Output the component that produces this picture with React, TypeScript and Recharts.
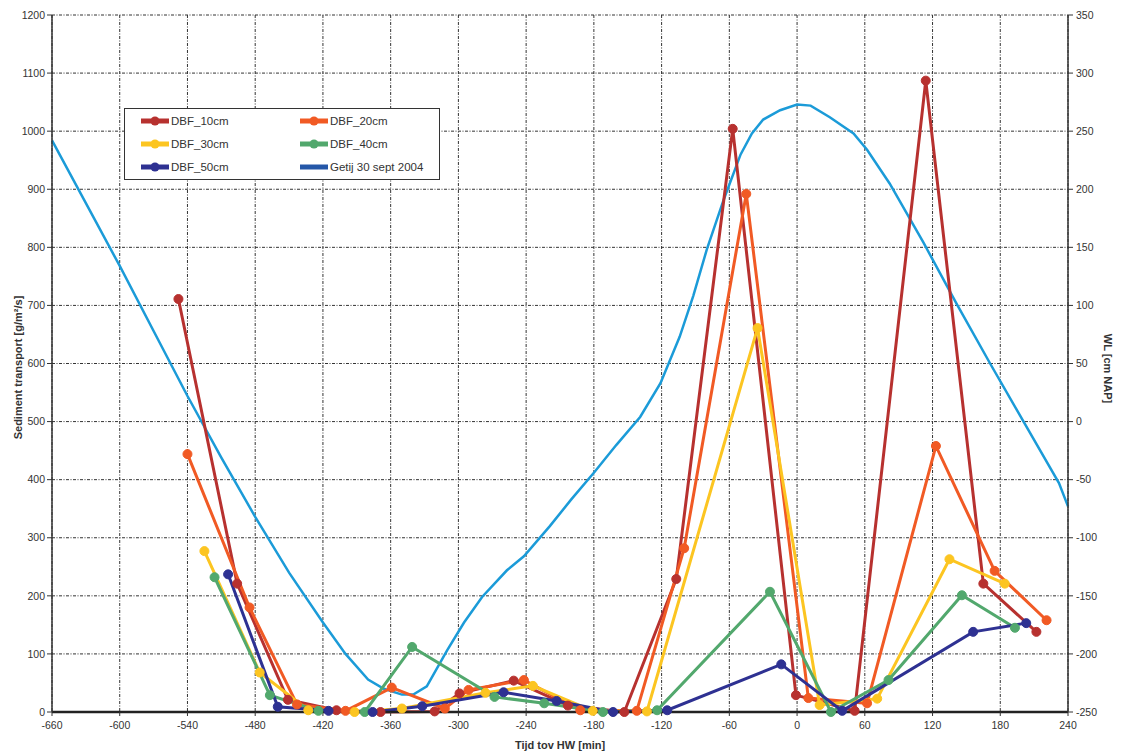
import React from 'react';
import { ComposedChart, Line, XAxis, YAxis, CartesianGrid, Legend, Label } from 'recharts';

// Axis ticks
const timeTicks = [-660, -600, -540, -480, -420, -360, -300, -240, -180, -120, -60, 0, 60, 120, 180, 240];
const transportTicks = [0, 100, 200, 300, 400, 500, 600, 700, 800, 900, 1000, 1100, 1200];
const waterLevelTicks = [-250, -200, -150, -100, -50, 0, 50, 100, 150, 200, 250, 300, 350];

// [time relative to high water (min), sediment transport (g/m²/s)]
const dbf10cm: [number, number][] = [
  [-548, 711], [-496, 221], [-451, 21], [-408, 3], [-369, 0], [-321, 1], [-299, 32],
  [-251, 54], [-203, 11], [-153, 0], [-107, 229], [-57, 1004], [-1, 29], [51, 2],
  [114, 1087], [165, 221], [212, 138],
];
const dbf20cm: [number, number][] = [
  [-540, 444], [-485, 180], [-443, 13], [-400, 2], [-359, 42], [-312, 6], [-291, 38],
  [-242, 55], [-192, 3], [-142, 2], [-100, 282], [-45, 892], [10, 24], [62, 15],
  [123, 458], [175, 243], [221, 158],
];
const dbf30cm: [number, number][] = [
  [-525, 277], [-476, 68], [-433, 3], [-392, 0], [-350, 6], [-276, 33], [-234, 45],
  [-181, 2], [-133, 1], [-35, 661], [20, 12], [71, 23], [135, 263], [184, 221],
];
const dbf40cm: [number, number][] = [
  [-516, 232], [-467, 29], [-424, 2], [-383, 0], [-341, 112], [-268, 26], [-224, 15],
  [-172, 0], [-124, 3], [-24, 207], [30, 0], [81, 55], [146, 201], [193, 145],
];
const dbf50cm: [number, number][] = [
  [-504, 237], [-460, 9], [-415, 2], [-376, 0], [-332, 10], [-260, 34], [-213, 19],
  [-163, 0], [-115, 3], [-14, 82], [40, 2], [156, 138], [203, 153],
];

// [time relative to high water (min), water level (cm NAP)]
const getij: [number, number][] = [
  [-660, 242], [-630, 188], [-600, 134], [-570, 78], [-540, 22], [-510, -31], [-480, -82],
  [-450, -130], [-420, -173], [-400, -200], [-380, -222], [-366, -230], [-350, -235],
  [-340, -235], [-328, -228], [-310, -197], [-295, -173], [-279, -151], [-257, -128],
  [-242, -116], [-219, -90], [-200, -67], [-180, -44], [-160, -20], [-139, 4], [-121, 33],
  [-104, 73], [-92, 108], [-80, 148], [-65, 191], [-50, 230], [-40, 248], [-30, 260],
  [-15, 268], [0, 273], [12, 272], [29, 262], [50, 248], [62, 234], [82, 205], [112, 154],
  [141, 102], [171, 50], [200, 1], [232, -53], [240, -73],
];

const seriesNames = ['DBF_10cm', 'DBF_20cm', 'DBF_30cm', 'DBF_40cm', 'DBF_50cm', 'Getij 30 sept 2004'];

const colors: Record<string, string> = {
  DBF_10cm: '#b7312f',
  DBF_20cm: '#f15a24',
  DBF_30cm: '#fcc521',
  DBF_40cm: '#52a86d',
  DBF_50cm: '#2e3192',
  'Getij 30 sept 2004': '#1b9bd8',
};
const legendTideColor = '#2457a8';

const toRows = (pairs: [number, number][]) => pairs.map(([t, v]) => ({ t, v }));

const FONT = '"Liberation Sans", Arial, sans-serif';

const sedimentSeries: [string, [number, number][]][] = [
  ['DBF_10cm', dbf10cm],
  ['DBF_20cm', dbf20cm],
  ['DBF_30cm', dbf30cm],
  ['DBF_40cm', dbf40cm],
  ['DBF_50cm', dbf50cm],
];

function LegendBox() {
  return (
    <div
      style={{
        position: 'relative',
        width: 316,
        height: 72,
        boxSizing: 'border-box',
        border: '1.5px solid #333',
        background: '#fff',
        fontFamily: FONT,
        fontSize: 11.5,
        color: '#333',
      }}
    >
      {seriesNames.map((name, i) => {
        const col = i % 2;
        const row = Math.floor(i / 2);
        const left = col === 0 ? 15 : 174;
        const top = 12 + row * 23;
        const isTide = name.startsWith('Getij');
        const c = isTide ? legendTideColor : colors[name];
        return (
          <div key={name} style={{ position: 'absolute', left, top: top - 8, height: 16, display: 'flex', alignItems: 'center', whiteSpace: 'nowrap' }}>
            <svg width={30} height={16} style={{ display: 'block' }}>
              <line x1={1} y1={8} x2={29} y2={8} stroke={c} strokeWidth={5} />
              {!isTide && <circle cx={15} cy={8} r={4.5} fill={c} />}
            </svg>
            <span style={{ marginLeft: 1, lineHeight: '16px' }}>{name}</span>
          </div>
        );
      })}
    </div>
  );
}

const tickStyle = { fontSize: 10.5, fill: '#333', fontFamily: FONT };

export default function App() {
  return (
    <div style={{ width: 1107, height: 748, fontFamily: FONT }}>
      <ComposedChart width={1107} height={748} margin={{ top: 7, right: 0, bottom: 0, left: 0 }}>
        <CartesianGrid
          yAxisId="sed"
          stroke="#333"
          strokeWidth={1}
          strokeDasharray="3 1.5 1 1.5"
        />
        <XAxis
          dataKey="t"
          type="number"
          domain={[-660, 240]}
          ticks={timeTicks}
          interval={0}
          height={44}
          tick={tickStyle}
          tickSize={4}
          tickMargin={6}
          axisLine={{ stroke: '#222', strokeWidth: 2.5 }}
          tickLine={{ stroke: '#333' }}
        >
          <Label
            content={({ viewBox }: any) => (
              <text
                x={viewBox.x + viewBox.width / 2}
                y={737}
                textAnchor="middle"
                dominantBaseline="central"
                fontFamily={FONT}
                fontSize={11}
                fontWeight="bold"
                fill="#333"
              >
                Tijd tov HW [min]
              </text>
            )}
          />
        </XAxis>
        <YAxis
          yAxisId="sed"
          orientation="left"
          type="number"
          domain={[0, 1200]}
          ticks={transportTicks}
          interval={0}
          width={44}
          tick={tickStyle}
          tickSize={5}
          tickMargin={2}
          axisLine={{ stroke: '#333', strokeWidth: 1.5 }}
          tickLine={{ stroke: '#333' }}
        >
          <Label
            content={({ viewBox }: any) => {
              const cy = viewBox.y + viewBox.height / 2 + 4;
              return (
                <text
                  x={10}
                  y={cy}
                  transform={`rotate(-90, 10, ${cy})`}
                  textAnchor="middle"
                  dominantBaseline="central"
                  fontFamily={FONT}
                  fontSize={11}
                  fontWeight="bold"
                  fill="#333"
                >
                  Sediment transport [g/m²/s]
                </text>
              );
            }}
          />
        </YAxis>
        <YAxis
          yAxisId="wl"
          orientation="right"
          type="number"
          domain={[-250, 350]}
          ticks={waterLevelTicks}
          interval={0}
          width={47}
          tick={tickStyle}
          tickSize={5}
          tickMargin={3}
          axisLine={{ stroke: '#333', strokeWidth: 1.5 }}
          tickLine={{ stroke: '#333' }}
        >
          <Label
            content={({ viewBox }: any) => {
              const cy = viewBox.y + viewBox.height / 2 + 5;
              return (
                <text
                  x={1100}
                  y={cy}
                  transform={`rotate(90, 1100, ${cy})`}
                  textAnchor="middle"
                  dominantBaseline="central"
                  fontFamily={FONT}
                  fontSize={11}
                  fontWeight="bold"
                  fill="#333"
                >
                  WL [cm NAP]
                </text>
              );
            }}
          />
        </YAxis>
        <Legend
          layout="horizontal"
          verticalAlign="middle"
          align="center"
          wrapperStyle={{ left: 116, top: 100, width: 316, height: 72 }}
          content={() => <LegendBox />}
        />
        <Line
          yAxisId="wl"
          data={toRows(getij)}
          dataKey="v"
          name="Getij 30 sept 2004"
          type="linear"
          stroke={colors['Getij 30 sept 2004']}
          strokeWidth={2.5}
          dot={false}
          activeDot={false}
          isAnimationActive={false}
        />
        {sedimentSeries.map(([name, pairs]) => (
          <Line
            key={name}
            yAxisId="sed"
            data={toRows(pairs)}
            dataKey="v"
            name={name}
            type="linear"
            stroke={colors[name]}
            strokeWidth={3}
            dot={{ r: 4.5, fill: colors[name], stroke: colors[name], strokeWidth: 1 }}
            activeDot={false}
            isAnimationActive={false}
          />
        ))}
      </ComposedChart>
    </div>
  );
}
